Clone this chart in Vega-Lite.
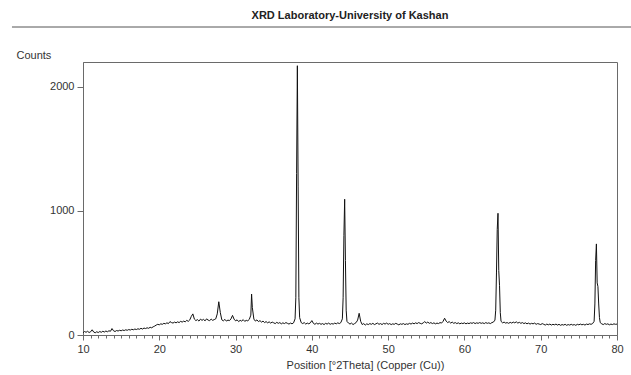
{
  "$schema": "https://vega.github.io/schema/vega-lite/v6.json",
  "width": 534,
  "height": 273,
  "autosize": {"type": "none"},
  "padding": {"left": 83, "top": 62, "right": 14, "bottom": 40},
  "background": "white",
  "config": {
    "font": "Liberation Sans",
    "view": {"stroke": "#6a6a6a", "strokeWidth": 1},
    "axis": {"grid": false, "domainColor": "#6a6a6a", "tickColor": "#6a6a6a", "labelColor": "#333333", "titleColor": "#333333", "labelFont": "Liberation Sans", "titleFont": "Liberation Sans", "labelFontSize": 11, "titleFontSize": 11, "titleFontWeight": "normal"}
  },
  "title": {"text": "XRD Laboratory-University of Kashan", "font": "Liberation Sans", "fontSize": 11, "fontWeight": "bold", "color": "#222222", "anchor": "middle", "offset": 6},
  "datasets": {
    "xrd": [
      {"t":10.0,"c":18},{"t":10.2,"c":28},{"t":10.4,"c":22},{"t":10.6,"c":30},{"t":10.8,"c":20},{"t":11.0,"c":26},{"t":11.2,"c":42},{"t":11.4,"c":24},{"t":11.6,"c":18},{"t":11.8,"c":26},
      {"t":12.0,"c":20},{"t":12.2,"c":28},{"t":12.4,"c":22},{"t":12.6,"c":30},{"t":12.8,"c":24},{"t":13.0,"c":32},{"t":13.2,"c":26},{"t":13.4,"c":34},{"t":13.6,"c":30},{"t":13.8,"c":52},
      {"t":14.0,"c":34},{"t":14.2,"c":28},{"t":14.4,"c":36},{"t":14.6,"c":32},{"t":14.8,"c":38},{"t":15.0,"c":34},{"t":15.2,"c":40},{"t":15.4,"c":36},{"t":15.6,"c":42},{"t":15.8,"c":38},
      {"t":16.0,"c":44},{"t":16.2,"c":40},{"t":16.4,"c":46},{"t":16.6,"c":42},{"t":16.8,"c":48},{"t":17.0,"c":44},{"t":17.2,"c":50},{"t":17.4,"c":46},{"t":17.6,"c":54},{"t":17.8,"c":48},
      {"t":18.0,"c":56},{"t":18.2,"c":52},{"t":18.4,"c":58},{"t":18.6,"c":54},{"t":18.8,"c":62},{"t":19.0,"c":58},{"t":19.2,"c":66},{"t":19.4,"c":72},{"t":19.6,"c":80},{"t":19.8,"c":86},
      {"t":20.0,"c":82},{"t":20.2,"c":90},{"t":20.4,"c":86},{"t":20.6,"c":94},{"t":20.8,"c":90},{"t":21.0,"c":98},{"t":21.2,"c":92},{"t":21.4,"c":108},{"t":21.6,"c":100},{"t":21.8,"c":96},
      {"t":22.0,"c":104},{"t":22.2,"c":98},{"t":22.4,"c":106},{"t":22.6,"c":100},{"t":22.8,"c":110},{"t":23.0,"c":104},{"t":23.2,"c":112},{"t":23.4,"c":106},{"t":23.6,"c":118},{"t":23.8,"c":110},
      {"t":24.0,"c":122},{"t":24.2,"c":150},{"t":24.4,"c":170},{"t":24.6,"c":128},{"t":24.8,"c":116},{"t":25.0,"c":124},{"t":25.2,"c":112},{"t":25.4,"c":128},{"t":25.6,"c":118},{"t":25.8,"c":126},
      {"t":26.0,"c":114},{"t":26.2,"c":130},{"t":26.4,"c":120},{"t":26.6,"c":116},{"t":26.8,"c":128},{"t":27.0,"c":118},{"t":27.2,"c":124},{"t":27.4,"c":130},{"t":27.6,"c":170},{"t":27.8,"c":268},
      {"t":28.0,"c":180},{"t":28.2,"c":122},{"t":28.4,"c":114},{"t":28.6,"c":126},{"t":28.8,"c":112},{"t":29.0,"c":120},{"t":29.2,"c":116},{"t":29.4,"c":130},{"t":29.6,"c":158},{"t":29.8,"c":128},
      {"t":30.0,"c":114},{"t":30.2,"c":122},{"t":30.4,"c":108},{"t":30.6,"c":118},{"t":30.8,"c":112},{"t":31.0,"c":124},{"t":31.2,"c":110},{"t":31.4,"c":118},{"t":31.6,"c":114},{"t":31.8,"c":126},
      {"t":32.0,"c":160},{"t":32.1,"c":330},{"t":32.2,"c":220},{"t":32.4,"c":128},{"t":32.6,"c":112},{"t":32.8,"c":122},{"t":33.0,"c":108},{"t":33.2,"c":116},{"t":33.4,"c":104},{"t":33.6,"c":112},
      {"t":33.8,"c":100},{"t":34.0,"c":108},{"t":34.2,"c":98},{"t":34.4,"c":106},{"t":34.6,"c":96},{"t":34.8,"c":104},{"t":35.0,"c":98},{"t":35.2,"c":92},{"t":35.4,"c":102},{"t":35.6,"c":94},
      {"t":35.8,"c":100},{"t":36.0,"c":90},{"t":36.2,"c":98},{"t":36.4,"c":92},{"t":36.6,"c":100},{"t":36.8,"c":94},{"t":37.0,"c":88},{"t":37.2,"c":96},{"t":37.4,"c":90},{"t":37.6,"c":98},
      {"t":37.8,"c":130},{"t":37.9,"c":300},{"t":38.0,"c":1300},{"t":38.1,"c":2170},{"t":38.2,"c":1200},{"t":38.3,"c":300},{"t":38.4,"c":140},{"t":38.6,"c":100},{"t":38.8,"c":92},
      {"t":39.0,"c":100},{"t":39.2,"c":88},{"t":39.4,"c":96},{"t":39.6,"c":90},{"t":39.8,"c":98},{"t":40.0,"c":116},{"t":40.2,"c":94},{"t":40.4,"c":86},{"t":40.6,"c":96},{"t":40.8,"c":88},
      {"t":41.0,"c":94},{"t":41.2,"c":86},{"t":41.4,"c":92},{"t":41.6,"c":84},{"t":41.8,"c":94},{"t":42.0,"c":88},{"t":42.2,"c":96},{"t":42.4,"c":86},{"t":42.6,"c":92},{"t":42.8,"c":88},
      {"t":43.0,"c":96},{"t":43.2,"c":90},{"t":43.4,"c":98},{"t":43.6,"c":92},{"t":43.8,"c":100},{"t":44.0,"c":130},{"t":44.1,"c":300},{"t":44.2,"c":800},{"t":44.3,"c":1094},{"t":44.4,"c":600},
      {"t":44.5,"c":200},{"t":44.6,"c":110},{"t":44.8,"c":96},{"t":45.0,"c":88},{"t":45.2,"c":96},{"t":45.4,"c":84},{"t":45.6,"c":92},{"t":45.8,"c":100},{"t":46.0,"c":120},{"t":46.2,"c":175},
      {"t":46.4,"c":110},{"t":46.6,"c":84},{"t":46.8,"c":92},{"t":47.0,"c":80},{"t":47.2,"c":90},{"t":47.4,"c":84},{"t":47.6,"c":92},{"t":47.8,"c":86},{"t":48.0,"c":94},{"t":48.2,"c":84},
      {"t":48.4,"c":90},{"t":48.6,"c":96},{"t":48.8,"c":86},{"t":49.0,"c":92},{"t":49.2,"c":84},{"t":49.4,"c":94},{"t":49.6,"c":88},{"t":49.8,"c":96},{"t":50.0,"c":86},{"t":50.2,"c":92},
      {"t":50.4,"c":84},{"t":50.6,"c":90},{"t":50.8,"c":86},{"t":51.0,"c":94},{"t":51.2,"c":88},{"t":51.4,"c":82},{"t":51.6,"c":90},{"t":51.8,"c":86},{"t":52.0,"c":92},{"t":52.2,"c":84},
      {"t":52.4,"c":90},{"t":52.6,"c":86},{"t":52.8,"c":94},{"t":53.0,"c":88},{"t":53.2,"c":96},{"t":53.4,"c":90},{"t":53.6,"c":98},{"t":53.8,"c":92},{"t":54.0,"c":100},{"t":54.2,"c":94},
      {"t":54.4,"c":90},{"t":54.6,"c":98},{"t":54.8,"c":108},{"t":55.0,"c":96},{"t":55.2,"c":104},{"t":55.4,"c":94},{"t":55.6,"c":100},{"t":55.8,"c":92},{"t":56.0,"c":98},{"t":56.2,"c":90},
      {"t":56.4,"c":96},{"t":56.6,"c":92},{"t":56.8,"c":100},{"t":57.0,"c":96},{"t":57.2,"c":110},{"t":57.4,"c":135},{"t":57.6,"c":112},{"t":57.8,"c":100},{"t":58.0,"c":108},{"t":58.2,"c":96},
      {"t":58.4,"c":104},{"t":58.6,"c":94},{"t":58.8,"c":100},{"t":59.0,"c":92},{"t":59.2,"c":98},{"t":59.4,"c":90},{"t":59.6,"c":96},{"t":59.8,"c":92},{"t":60.0,"c":98},{"t":60.2,"c":90},
      {"t":60.4,"c":96},{"t":60.6,"c":92},{"t":60.8,"c":98},{"t":61.0,"c":94},{"t":61.2,"c":100},{"t":61.4,"c":92},{"t":61.6,"c":98},{"t":61.8,"c":94},{"t":62.0,"c":100},{"t":62.2,"c":94},
      {"t":62.4,"c":98},{"t":62.6,"c":92},{"t":62.8,"c":100},{"t":63.0,"c":94},{"t":63.2,"c":98},{"t":63.4,"c":92},{"t":63.6,"c":100},{"t":63.8,"c":104},{"t":64.0,"c":120},{"t":64.1,"c":200},
      {"t":64.2,"c":500},{"t":64.3,"c":850},{"t":64.4,"c":981},{"t":64.5,"c":520},{"t":64.6,"c":400},{"t":64.7,"c":180},{"t":64.8,"c":110},{"t":65.0,"c":98},{"t":65.2,"c":104},{"t":65.4,"c":96},
      {"t":65.6,"c":100},{"t":65.8,"c":94},{"t":66.0,"c":102},{"t":66.2,"c":96},{"t":66.4,"c":104},{"t":66.6,"c":98},{"t":66.8,"c":106},{"t":67.0,"c":96},{"t":67.2,"c":102},{"t":67.4,"c":94},
      {"t":67.6,"c":100},{"t":67.8,"c":92},{"t":68.0,"c":98},{"t":68.2,"c":90},{"t":68.4,"c":96},{"t":68.6,"c":88},{"t":68.8,"c":94},{"t":69.0,"c":90},{"t":69.2,"c":96},{"t":69.4,"c":86},
      {"t":69.6,"c":92},{"t":69.8,"c":88},{"t":70.0,"c":84},{"t":70.2,"c":92},{"t":70.4,"c":86},{"t":70.6,"c":80},{"t":70.8,"c":88},{"t":71.0,"c":82},{"t":71.2,"c":88},{"t":71.4,"c":80},
      {"t":71.6,"c":86},{"t":71.8,"c":82},{"t":72.0,"c":88},{"t":72.2,"c":80},{"t":72.4,"c":86},{"t":72.6,"c":78},{"t":72.8,"c":84},{"t":73.0,"c":80},{"t":73.2,"c":86},{"t":73.4,"c":78},
      {"t":73.6,"c":84},{"t":73.8,"c":80},{"t":74.0,"c":86},{"t":74.2,"c":80},{"t":74.4,"c":84},{"t":74.6,"c":78},{"t":74.8,"c":86},{"t":75.0,"c":82},{"t":75.2,"c":88},{"t":75.4,"c":82},
      {"t":75.6,"c":86},{"t":75.8,"c":80},{"t":76.0,"c":88},{"t":76.2,"c":84},{"t":76.4,"c":90},{"t":76.6,"c":86},{"t":76.8,"c":92},{"t":77.0,"c":110},{"t":77.1,"c":250},{"t":77.2,"c":600},
      {"t":77.3,"c":734},{"t":77.4,"c":420},{"t":77.5,"c":390},{"t":77.6,"c":250},{"t":77.7,"c":140},{"t":77.8,"c":100},{"t":78.0,"c":90},{"t":78.2,"c":84},{"t":78.4,"c":92},{"t":78.6,"c":86},
      {"t":78.8,"c":90},{"t":79.0,"c":82},{"t":79.2,"c":88},{"t":79.4,"c":84},{"t":79.6,"c":90},{"t":79.8,"c":86},{"t":80.0,"c":88}
    ],
    "underline": [{"t": 0.69, "t2": 81.9, "c": 2482}]
  },
  "encoding": {
    "x": {"field": "t", "type": "quantitative", "scale": {"domain": [10, 80], "nice": false, "zero": false},
      "axis": {"values": [10,11,12,13,14,15,16,17,18,19,20,21,22,23,24,25,26,27,28,29,30,31,32,33,34,35,36,37,38,39,40,41,42,43,44,45,46,47,48,49,50,51,52,53,54,55,56,57,58,59,60,61,62,63,64,65,66,67,68,69,70,71,72,73,74,75,76,77,78,79,80],
        "format": "d",
        "labelExpr": "datum.value % 10 === 0 ? datum.label : ''",
        "tickSize": {"condition": {"test": "datum.value % 10 === 0", "value": 5}, "value": 3},
        "labelPadding": 3, "labelFlush": false, "labelOverlap": false, "labelBound": false,
        "title": "Position [°2Theta] (Copper (Cu))", "titleX": 282, "titleY": 33, "titleBaseline": "alphabetic", "titleAnchor": null}},
    "y": {"field": "c", "type": "quantitative", "scale": {"domain": [0, 2200], "nice": false},
      "axis": {"values": [0, 1000, 2000], "format": "d", "tickSize": 6, "labelPadding": 3,
        "title": "Counts", "titleAngle": 0, "titleAlign": "left", "titleBaseline": "alphabetic", "titleX": -67, "titleY": -4}}
  },
  "layer": [
    {
      "data": {"name": "xrd"},
      "mark": {"type": "line", "color": "#111111", "strokeWidth": 1, "interpolate": "linear"}
    },
    {
      "data": {"name": "underline"},
      "mark": {"type": "rule", "color": "#555555", "strokeWidth": 1, "clip": false},
      "encoding": {"x2": {"field": "t2"}}
    }
  ]
}
